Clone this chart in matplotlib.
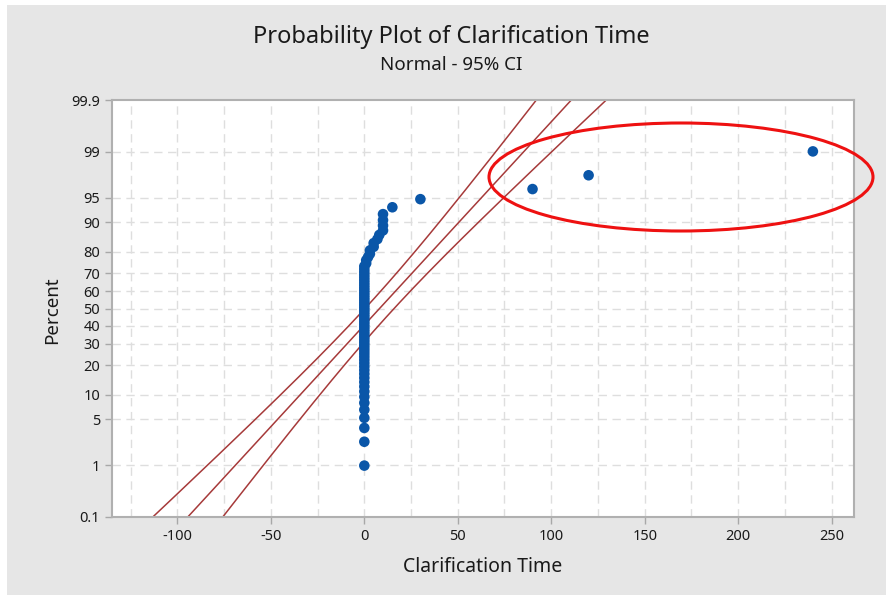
# Probability plot (normal, 95% CI) of clarification time, Minitab-like style

import numpy as np
import matplotlib.pyplot as plt
from matplotlib.patches import Ellipse, Rectangle
from statistics import NormalDist

n_zero = 52
small_values = [1, 1, 2, 3, 3, 5, 5, 7, 8, 10, 10, 10, 10, 15, 30]
outliers = [90, 120, 240]
clarification_time = np.array([0] * n_zero + small_values + outliers, dtype=float)

y_ticks = [0.1, 1, 5, 10, 20, 30, 40, 50, 60, 70, 80, 90, 95, 99, 99.9]
y_tick_labels = ["0.1", "1", "5", "10", "20", "30", "40", "50", "60", "70", "80", "90", "95", "99", "99.9"]
x_ticks = [-100, -50, 0, 50, 100, 150, 200, 250]
x_minor = [-125, -75, -25, 25, 75, 125, 175, 225]

bleu = '#0a56a8'
rouge = '#a63a3a'
gris_fond = '#e6e6e6'

nd = NormalDist()


def vers_z(p):
    p = np.clip(np.asarray(p, dtype=float), 1e-7, 100 - 1e-7)
    return np.vectorize(lambda v: nd.inv_cdf(v / 100.0), otypes=[float])(p)


def vers_pct(z):
    z = np.asarray(z, dtype=float)
    return np.vectorize(lambda v: nd.cdf(v) * 100.0, otypes=[float])(z)


# positions de tracé (rangs médians, comme Minitab)
x_trie = np.sort(clarification_time)
n = len(x_trie)
rangs = np.arange(1, n + 1)
pct = (rangs - 0.3) / (n + 0.4) * 100

# ajustement normal + intervalle de confiance à 95 %
mu = x_trie.mean()
sigma = x_trie.std()
z = np.linspace(-3.6, 3.6, 200)
x_fit = mu + z * sigma
se = sigma * np.sqrt(1.0 / n + z ** 2 / (2.0 * n))
x_bas = x_fit - 1.96 * se
x_haut = x_fit + 1.96 * se
pct_ligne = vers_pct(z)

plt.rcParams['font.family'] = ['Noto Sans', 'DejaVu Sans']

fig = plt.figure(figsize=(8.87, 5.95), dpi=100)
fig.patch.set_facecolor('white')
fig.add_artist(Rectangle((7 / 887, 0), 1, 1 - 5 / 595, transform=fig.transFigure,
                         facecolor=gris_fond, edgecolor='none', zorder=-10))

ax = fig.add_axes([112 / 887, 1 - 517 / 595, (854 - 112) / 887, (517 - 100) / 595])
ax.set_facecolor('white')
ax.set_yscale('function', functions=(vers_z, vers_pct))
ax.set_ylim(0.1, 99.9)
ax.set_xlim(-135, 262)

# grille en tirets
for xv in x_ticks + x_minor:
    ax.axvline(xv, color='#dedede', lw=1, ls=(0, (6, 4)), zorder=0)
for yv in y_ticks[1:-1]:
    ax.axhline(yv, color='#dedede', lw=1, ls=(0, (6, 4)), zorder=0)

ax.plot(x_fit, pct_ligne, color=rouge, lw=1.1, zorder=2)
ax.plot(x_bas, pct_ligne, color=rouge, lw=1.1, zorder=2)
ax.plot(x_haut, pct_ligne, color=rouge, lw=1.1, zorder=2)
ax.scatter(x_trie, pct, s=58, color=bleu, edgecolors='none', zorder=3)

ax.set_yticks(y_ticks)
ax.set_yticklabels(y_tick_labels)
ax.yaxis.set_minor_locator(plt.NullLocator())
ax.set_xticks(x_ticks)
ax.set_xticklabels([str(v) for v in x_ticks])
ax.tick_params(axis='both', labelsize=10.5, color='#a8a8a8', length=5, width=1, labelcolor='#1a1a1a')
for s in ax.spines.values():
    s.set_color('#b0b0b0')
    s.set_linewidth(1.5)

fig.text(451 / 887, 1 - 37 / 595, "Probability Plot of Clarification Time", ha='center', va='center',
         fontsize=17, color='#1a1a1a')
fig.text(451 / 887, 1 - 65 / 595, "Normal - 95% CI", ha='center', va='center',
         fontsize=13.5, color='#1a1a1a')
fig.text(483 / 887, 1 - 567 / 595, "Clarification Time", ha='center', va='center',
         fontsize=14, color='#1a1a1a')
fig.text(52 / 887, 1 - 310 / 595, "Percent", ha='center', va='center', rotation=90,
         fontsize=13.5, color='#1a1a1a')

# ellipse rouge autour des valeurs extrêmes
fig.add_artist(Ellipse((681 / 887, 1 - 177 / 595), 384 / 887, 108 / 595, transform=fig.transFigure,
                       facecolor='none', edgecolor='#ee1111', lw=2.2, zorder=10))

fig.savefig('out.png', dpi=100)
